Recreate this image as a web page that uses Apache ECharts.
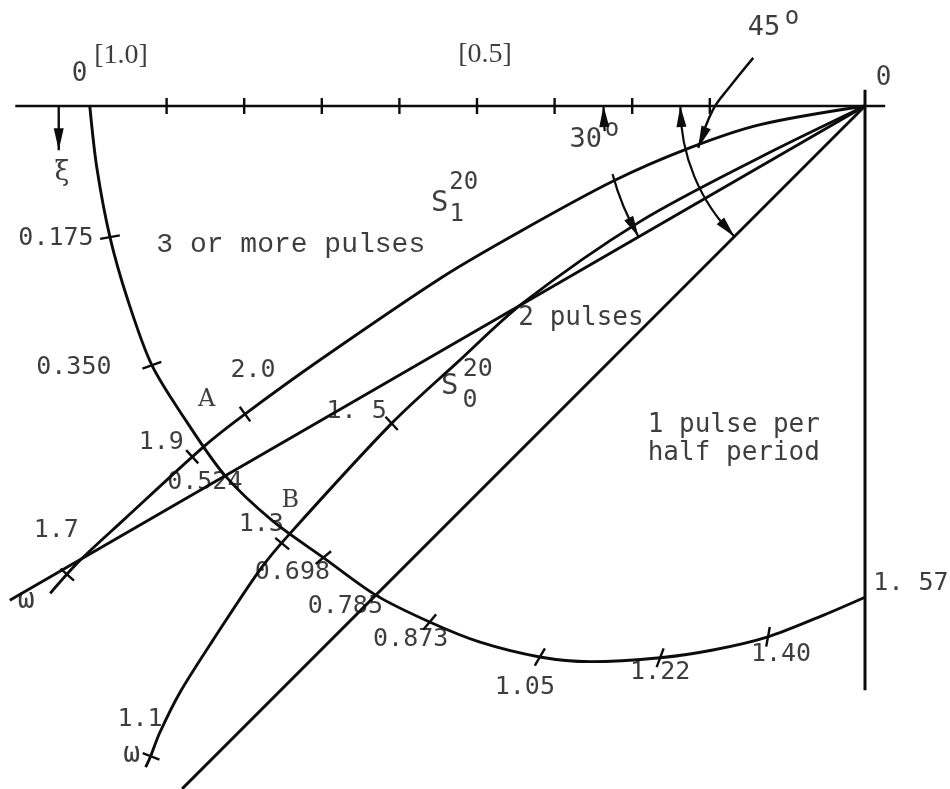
<!DOCTYPE html>
<html>
<head>
<meta charset="utf-8">
<script src="https://cdn.jsdelivr.net/npm/echarts/dist/echarts.min.js"></script>
<style>
  html, body { margin: 0; padding: 0; background: #fff; }
  #chart { width: 950px; height: 789px; }
</style>
</head>
<body>
<div id="chart"></div>
<script>
// Coordinates: u = distance to the left of the origin O, v = distance below the top axis,
// both measured on the scale of the top axis ([1.0] at its left end).

// ---- top axis ----
const hAxisLine = [[1.095, 0], [-0.026, 0]];
const hAxisTicks = [0.2, 0.3, 0.4, 0.5, 0.6, 0.7, 0.8, 0.9];
const hAxisLabelValues = [1.0, 0.5];
const hAxisLabels = ['[1.0]', '[0.5]'];

// ---- right-hand vertical ----
const vAxisLine = [[0, -0.021], [0, 0.753]];

// ---- xi curve (xi = angle from the top axis, read at the labelled marks) ----
const xiCurve = [
  [0.999, 0.000], [0.990, 0.079], [0.973, 0.169], [0.950, 0.250], [0.919, 0.334],
  [0.874, 0.407], [0.825, 0.476], [0.763, 0.535], [0.698, 0.582], [0.631, 0.630],
  [0.561, 0.665], [0.496, 0.691], [0.419, 0.710], [0.354, 0.716], [0.264, 0.711],
  [0.196, 0.701], [0.125, 0.684], [0.058, 0.658], [0.000, 0.633]
];
const xiTickLabels = ['0.175', '0.350', '0.524', '0.698', '0.785', '0.873', '1.05', '1.22', '1.40', '1. 57'];
const xiTickPoints = [
  [0.973, 0.169], [0.919, 0.334], [0.825, 0.476], [0.698, 0.582], [0.631, 0.630],
  [0.561, 0.665], [0.419, 0.710], [0.264, 0.711], [0.125, 0.684], [0.000, 0.633]
];
// marks that sit on a crossing with another line instead of having their own stroke
const xiCrossingLabels = ['0.524', '0.785', '1. 57'];

// ---- S1^20 curve, marked in omega ----
const s1Curve = [
  [0, 0], [0.135, 0.024], [0.226, 0.054], [0.325, 0.097], [0.445, 0.162], [0.544, 0.220],
  [0.702, 0.327], [0.799, 0.397], [0.851, 0.438], [0.956, 0.534], [1.014, 0.588], [1.050, 0.628]
];
const s1TickLabels = ['2.0', '1.9', '1.7'];
const s1TickPoints = [[0.799, 0.397], [0.867, 0.452], [1.028, 0.604]];

// ---- S0^20 curve, marked in omega ----
const s0Curve = [
  [0, 0], [0.135, 0.066], [0.290, 0.149], [0.441, 0.254], [0.526, 0.331], [0.610, 0.409],
  [0.742, 0.552], [0.780, 0.598], [0.840, 0.688], [0.883, 0.756], [0.909, 0.808],
  [0.921, 0.839], [0.927, 0.852]
];
const s0TickLabels = ['1. 5', '1.3', '1.1'];
const s0TickPoints = [[0.610, 0.409], [0.751, 0.564], [0.920, 0.838]];

// ---- straight rays from O at 30 and 45 degrees ----
const ray30 = [[0, 0], [1.102, 0.637]];
const ray45 = [[0, 0], [0.880, 0.880]];

// ---- intersection points ----
const pointNames = ['A', 'B'];
const pointCoords = [[0.851, 0.438], [0.742, 0.552]];

// ---- angle marks (degrees) ----
const angleValues = [45, 30];

// ================= layout & drawing =================
const INK = '#0c0c0c';
const MONO = '"DejaVu Sans Mono", "Liberation Mono", monospace';
const TYPE = '"Liberation Mono", "DejaVu Sans Mono", monospace';
const SERIF = '"Liberation Serif", "DejaVu Serif", serif';
const HEAVY_SERIF = '"DejaVu Serif", "Liberation Serif", serif';

const angleMarkLayout = [
  { radius: 0.238, spans: [[0, 45]] },
  { radius: 0.337, spans: [[0, 5.5], [15.1, 30]] }
];
const pointerArrows = [
  [[1.039, 0], [1.039, 0.057]],                                      // xi direction
  [[0.144, -0.062], [0.174, -0.025], [0.196, 0.005], [0.215, 0.054]] // from the 45 degree label
];

// label offsets (px) from their marks
const hAxisLabelOffsets = [[32, -50], [8, -51]];
const xiLabelOffsets = [[-54, 1], [-78, 2], [-20, 7], [-31, 15], [-30, 12], [-19, 17], [-15, 31], [0, 15], [13, 18], [46, -14]];
const s1LabelOffsets = [[8, -44], [-31, -14], [-11, -44]];
const s0LabelOffsets = [[-35, -12], [-21, -19], [-11, -37]];
const pointLabelOffsets = [[2, -46], [1, -34]];

const notes = [
  { text: '0', at: [-0.024, -0.036], size: 26 },
  { text: '0', at: [1.012, -0.041], size: 26 },
  { text: 'ξ', at: [1.035, 0.086], size: 27, font: HEAVY_SERIF },
  { text: '45', at: [0.130, -0.101], size: 27 },
  { text: 'o', at: [0.094, -0.114], size: 24 },
  { text: '30', at: [0.360, 0.044], size: 27 },
  { text: 'o', at: [0.326, 0.030], size: 24 },
  { text: '3 or more pulses', at: [0.740, 0.179], size: 28, font: TYPE },
  { text: 'S', at: [0.548, 0.125], size: 29 },
  { text: '20', at: [0.517, 0.099], size: 24 },
  { text: '1', at: [0.526, 0.140], size: 24 },
  { text: 'S', at: [0.535, 0.361], size: 29 },
  { text: '20', at: [0.499, 0.339], size: 25 },
  { text: '0', at: [0.509, 0.379], size: 25 },
  { text: 'ω', at: [1.081, 0.638], size: 28 },
  { text: 'ω', at: [0.945, 0.836], size: 28 },
  { text: '2 pulses', at: [0.366, 0.273], size: 26 },
  { text: '1 pulse per\nhalf period', at: [0.280, 0.430], size: 26, align: 'left', lineHeight: 28 }
];

function lineSeries(data, smooth, width) {
  return {
    type: 'line', data: data, smooth: smooth || false, symbol: 'none', clip: false,
    silent: true, animation: false, z: 2,
    lineStyle: { color: INK, width: width || 2.9 }
  };
}

function nearestTangent(p, pts) {
  let best = Infinity, dir = [1, 0];
  for (let i = 0; i < pts.length - 1; i++) {
    const a = pts[i], b = pts[i + 1];
    const dx = b[0] - a[0], dy = b[1] - a[1];
    const l2 = dx * dx + dy * dy;
    if (!l2) continue;
    let t = ((p[0] - a[0]) * dx + (p[1] - a[1]) * dy) / l2;
    t = Math.max(0, Math.min(1, t));
    const qx = a[0] + t * dx - p[0], qy = a[1] + t * dy - p[1];
    const d2 = qx * qx + qy * qy;
    if (d2 < best) { best = d2; const l = Math.sqrt(l2); dir = [dx / l, dy / l]; }
  }
  return dir;
}

function strokeAt(p, n, h) {
  return {
    type: 'line',
    shape: { x1: p[0] - n[0] * h, y1: p[1] - n[1] * h, x2: p[0] + n[0] * h, y2: p[1] + n[1] * h },
    style: { stroke: INK, lineWidth: 2.4 }
  };
}

// tick strokes: 'vertical', 'radial' (toward O) or 'normal' (across a curve)
function tickSeries(points, mode, curve, half) {
  return {
    type: 'custom', coordinateSystem: 'cartesian2d', silent: true, animation: false, z: 3,
    data: points,
    renderItem: function (params, api) {
      const p = api.coord([api.value(0), api.value(1)]);
      let n;
      if (mode === 'vertical') {
        n = [0, 1];
      } else if (mode === 'radial') {
        const o = api.coord([0, 0]);
        const dx = o[0] - p[0], dy = o[1] - p[1], l = Math.hypot(dx, dy) || 1;
        n = [dx / l, dy / l];
      } else {
        const t = nearestTangent(p, curve.map(function (c) { return api.coord(c); }));
        n = [-t[1], t[0]];
      }
      return strokeAt(p, n, half);
    }
  };
}

function arrowHead(tip, from, len, wid) {
  const dx = tip[0] - from[0], dy = tip[1] - from[1];
  const l = Math.hypot(dx, dy) || 1;
  const ux = dx / l, uy = dy / l;
  const bx = tip[0] - ux * len, by = tip[1] - uy * len;
  return {
    type: 'polygon',
    shape: { points: [tip, [bx - uy * wid / 2, by + ux * wid / 2], [bx + uy * wid / 2, by - ux * wid / 2]] },
    style: { fill: INK }
  };
}

function labelItems(points, texts, offsets, extra) {
  return points.map(function (p, i) {
    return {
      name: texts[i], value: p,
      label: Object.assign({ offset: offsets[i] }, extra || {})
    };
  });
}

const xiStrokePoints = xiTickPoints.filter(function (p, i) {
  return xiCrossingLabels.indexOf(xiTickLabels[i]) < 0;
});

const labelData = []
  .concat(labelItems(hAxisLabelValues.map(function (u) { return [u, 0]; }), hAxisLabels, hAxisLabelOffsets,
    { fontFamily: SERIF, fontSize: 28 }))
  .concat(labelItems(xiTickPoints, xiTickLabels, xiLabelOffsets))
  .concat(labelItems(s1TickPoints, s1TickLabels, s1LabelOffsets))
  .concat(labelItems(s0TickPoints, s0TickLabels, s0LabelOffsets))
  .concat(labelItems(pointCoords, pointNames, pointLabelOffsets, { fontFamily: HEAVY_SERIF, fontSize: 24 }))
  .concat(notes.map(function (n) {
    return {
      name: n.text, value: n.at,
      label: {
        fontSize: n.size, fontFamily: n.font || MONO,
        align: n.align || 'center', lineHeight: n.lineHeight || n.size
      }
    };
  }));

const option = {
  animation: false,
  backgroundColor: '#fff',
  grid: { left: 11.4, right: 7.4, top: 12.88, bottom: 0.12, containLabel: false, outerBoundsMode: 'none' },
  xAxis: { type: 'value', min: -0.1, max: 1.1, inverse: true, show: false },
  yAxis: { type: 'value', min: -0.12, max: 0.88, inverse: true, show: false },
  series: [
    lineSeries(hAxisLine, false, 2.7),
    lineSeries(vAxisLine, false, 3),
    lineSeries(xiCurve, 0.3),
    lineSeries(s1Curve, 0.3),
    lineSeries(s0Curve, 0.3),
    lineSeries(ray30, false),
    lineSeries(ray45, false),
    tickSeries(hAxisTicks.map(function (u) { return [u, 0]; }), 'vertical', null, 8),
    tickSeries(xiStrokePoints, 'radial', null, 10),
    tickSeries(s1TickPoints, 'normal', s1Curve, 9),
    tickSeries(s0TickPoints, 'normal', s0Curve, 9),
    {
      // angle arcs about O with arrow heads at both ends
      type: 'custom', coordinateSystem: 'cartesian2d', silent: true, animation: false, z: 3,
      data: angleValues.map(function () { return [0, 0]; }),
      renderItem: function (params, api) {
        const m = angleMarkLayout[params.dataIndex];
        const a = angleValues[params.dataIndex];
        const o = api.coord([0, 0]);
        const R = Math.abs(api.coord([m.radius, 0])[0] - o[0]);
        const at = function (deg) {
          const t = deg * Math.PI / 180;
          return [o[0] - R * Math.cos(t), o[1] + R * Math.sin(t)];
        };
        const children = m.spans.map(function (s) {
          return {
            type: 'arc',
            shape: { cx: o[0], cy: o[1], r: R, startAngle: Math.PI - s[1] * Math.PI / 180, endAngle: Math.PI - s[0] * Math.PI / 180, clockwise: true },
            style: { stroke: INK, lineWidth: 2.2, fill: null }
          };
        });
        const d = 20 / R * 180 / Math.PI;
        children.push(arrowHead(at(0), at(d), 21, 10));
        children.push(arrowHead(at(a), at(a - d), 21, 10));
        return { type: 'group', children: children };
      }
    },
    {
      // pointer arrows
      type: 'custom', coordinateSystem: 'cartesian2d', silent: true, animation: false, z: 3,
      data: pointerArrows.map(function (p) { return p[p.length - 1]; }),
      renderItem: function (params, api) {
        const pts = pointerArrows[params.dataIndex].map(function (c) { return api.coord(c); });
        const tip = pts[pts.length - 1], prev = pts[pts.length - 2];
        return {
          type: 'group', children: [
            { type: 'polyline', shape: { points: pts, smooth: 0.4 }, style: { stroke: INK, lineWidth: 2.4, fill: null } },
            arrowHead(tip, prev, 22, 10)
          ]
        };
      }
    },
    {
      // all text
      type: 'scatter', silent: true, animation: false, clip: false, z: 5,
      symbolSize: 1, itemStyle: { color: 'rgba(0,0,0,0)' },
      data: labelData,
      label: {
        show: true, position: 'inside', formatter: '{b}', color: INK,
        fontFamily: MONO, fontSize: 25, align: 'center', verticalAlign: 'middle'
      }
    }
  ]
};

const chart = echarts.init(document.getElementById('chart'), null, { renderer: 'canvas' });
chart.setOption(option);
</script>
</body>
</html>
